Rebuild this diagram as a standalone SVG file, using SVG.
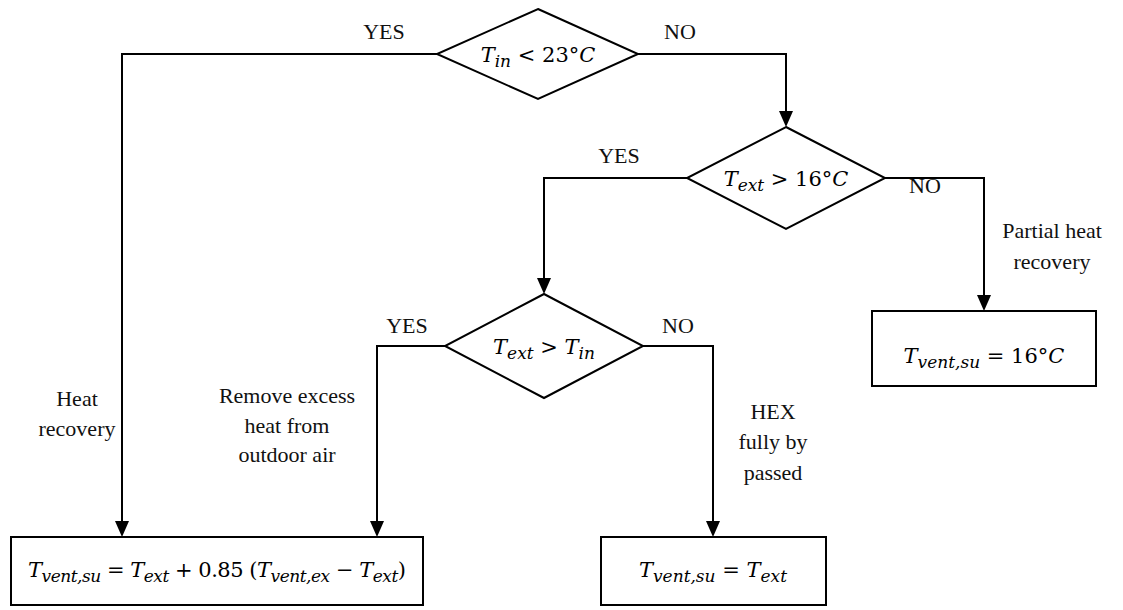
<svg xmlns="http://www.w3.org/2000/svg" width="1123" height="610" viewBox="0 0 1123 610">
<style>
.shape{fill:#fff;stroke:#000;stroke-width:2}
.conn{fill:none;stroke:#000;stroke-width:2}
.lbl{font-family:"Liberation Serif",serif;font-size:22px;fill:#111;text-anchor:middle}
.math{font-family:"DejaVu Serif","Liberation Serif",serif;font-size:21px;fill:#000;text-anchor:middle}
.v{font-style:italic}
.s{font-style:italic;font-size:17px}
</style>
<rect width="1123" height="610" fill="#fff"/>
<g id="connectors">
<path class="conn" d="M437,54 H122 V521"/>
<path class="conn" d="M638,54 H786 V111"/>
<path class="conn" d="M687,178 H544 V278"/>
<path class="conn" d="M885,178 H984 V295"/>
<path class="conn" d="M445,346 H377 V521"/>
<path class="conn" d="M643,346 H713 V521"/>
<path d="M115,521 L129,521 L122,537 Z"/>
<path d="M779,111 L793,111 L786,127 Z"/>
<path d="M537,278 L551,278 L544,294 Z"/>
<path d="M977,295 L991,295 L984,311 Z"/>
<path d="M370,521 L384,521 L377,537 Z"/>
<path d="M706,521 L720,521 L713,537 Z"/>
</g>
<g id="d1">
<polygon class="shape" points="538,9 638,54 538,99 437,54"/>
<text class="math" x="538" y="62"><tspan class="v">T</tspan><tspan class="s" dy="5">in</tspan><tspan dy="-5"> &lt; 23°</tspan><tspan class="v">C</tspan></text>
</g>
<g id="d2">
<polygon class="shape" points="786,127 885,178 786,229 687,178"/>
<text class="math" x="786" y="186"><tspan class="v">T</tspan><tspan class="s" dy="5">ext</tspan><tspan dy="-5"> &gt; 16°</tspan><tspan class="v">C</tspan></text>
</g>
<g id="d3">
<polygon class="shape" points="544,294 643,346 544,398 445,346"/>
<text class="math" x="544" y="354"><tspan class="v">T</tspan><tspan class="s" dy="5">ext</tspan><tspan dy="-5"> &gt; </tspan><tspan class="v">T</tspan><tspan class="s" dy="5">in</tspan></text>
</g>
<g id="b1">
<rect class="shape" x="11" y="537" width="412" height="68"/>
<text class="math" x="217" y="577" textLength="378" lengthAdjust="spacing"><tspan class="v">T</tspan><tspan class="s" dy="5">vent,su</tspan><tspan dy="-5"> = </tspan><tspan class="v">T</tspan><tspan class="s" dy="5">ext</tspan><tspan dy="-5"> + 0.85 (</tspan><tspan class="v">T</tspan><tspan class="s" dy="5">vent,ex</tspan><tspan dy="-5"> − </tspan><tspan class="v">T</tspan><tspan class="s" dy="5">ext</tspan><tspan dy="-5">)</tspan></text>
</g>
<g id="b2">
<rect class="shape" x="601" y="537" width="225" height="68"/>
<text class="math" x="713" y="577"><tspan class="v">T</tspan><tspan class="s" dy="5">vent,su</tspan><tspan dy="-5"> = </tspan><tspan class="v">T</tspan><tspan class="s" dy="5">ext</tspan></text>
</g>
<g id="b3">
<rect class="shape" x="872" y="311" width="224" height="75"/>
<text class="math" x="984" y="363"><tspan class="v">T</tspan><tspan class="s" dy="5">vent,su</tspan><tspan dy="-5"> = 16°</tspan><tspan class="v">C</tspan></text>
</g>
<g id="labels">
<text class="lbl" x="384" y="39">YES</text>
<text class="lbl" x="680" y="39">NO</text>
<text class="lbl" x="619" y="163">YES</text>
<text class="lbl" x="925" y="193">NO</text>
<text class="lbl" x="407" y="333">YES</text>
<text class="lbl" x="678" y="333">NO</text>
<text class="lbl" x="1052" y="238">Partial heat</text>
<text class="lbl" x="1052" y="269">recovery</text>
<text class="lbl" x="77" y="406">Heat</text>
<text class="lbl" x="77" y="436">recovery</text>
<text class="lbl" x="287" y="403">Remove excess</text>
<text class="lbl" x="287" y="433">heat from</text>
<text class="lbl" x="287" y="462">outdoor air</text>
<text class="lbl" x="773" y="419">HEX</text>
<text class="lbl" x="773" y="449">fully by</text>
<text class="lbl" x="773" y="480">passed</text>
</g>
</svg>
